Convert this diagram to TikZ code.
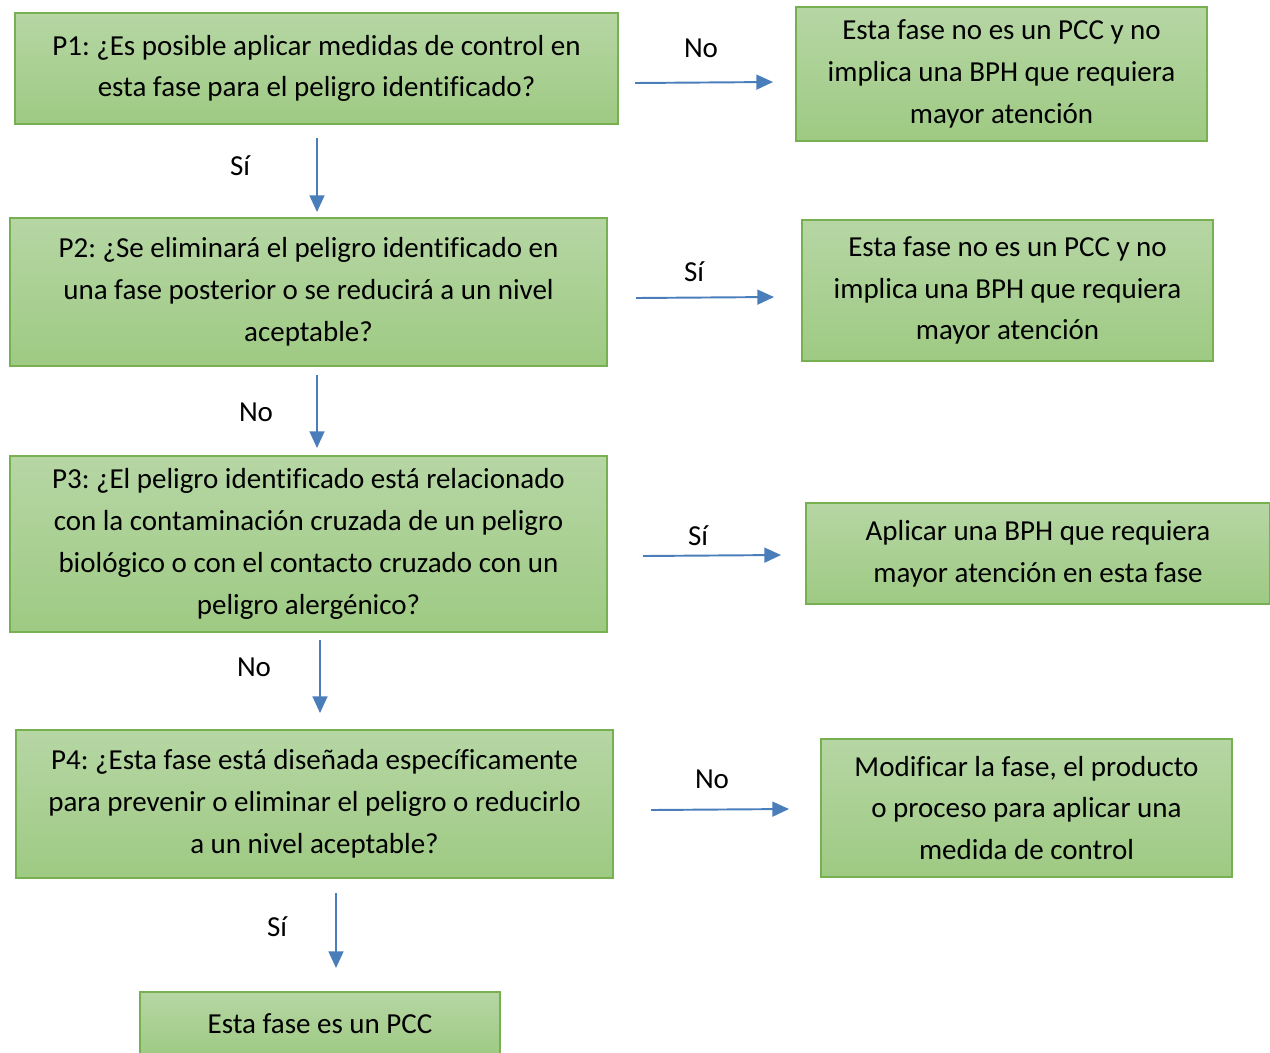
\documentclass[tikz,border=0pt]{standalone}
\usepackage{fontspec}
\setmainfont{Carlito}[Ligatures=NoCommon]
\frenchspacing
\usetikzlibrary{arrows.meta,positioning}
\definecolor{boxtop}{RGB}{182,214,164}
\definecolor{boxbot}{RGB}{158,202,131}
\definecolor{boxedge}{RGB}{118,176,80}
\definecolor{flechaazul}{RGB}{74,126,187}

\begin{document}
\begin{tikzpicture}[x=0.02cm,y=-0.02cm,
  paso/.style={draw=boxedge, line width=0.8pt, top color=boxtop, bottom color=boxbot,
    align=center, inner sep=0pt, font=\fontsize{16.5}{23.8}\selectfont},
  flecha/.style={draw=flechaazul, line width=1.1pt, -{Triangle[length=9.5pt,width=8.5pt]}},
  etiqueta/.style={inner sep=0pt, font=\fontsize{16.5}{20}\selectfont}]
\useasboundingbox (0,0) rectangle (1270,1052);

% preguntas
\node[paso, minimum width=12.06cm, minimum height=2.22cm] (p1) at (316.5,68.5)
  {P1: ¿Es posible aplicar medidas de control en\\esta fase para el peligro identificado?};
\node[paso, minimum width=11.94cm, minimum height=2.96cm] (p2) at (308.5,292)
  {P2: ¿Se eliminará el peligro identificado en\\una fase posterior o se reducirá a un nivel\\aceptable?};
\node[paso, minimum width=11.94cm, minimum height=3.52cm] (p3) at (308.5,544)
  {P3: ¿El peligro identificado está relacionado\\con la contaminación cruzada de un peligro\\biológico o con el contacto cruzado con un\\peligro alergénico?};
\node[paso, minimum width=11.94cm, minimum height=2.96cm] (p4) at (314.5,804)
  {P4: ¿Esta fase está diseñada específicamente\\para prevenir o eliminar el peligro o reducirlo\\a un nivel aceptable?};
\node[paso, minimum width=7.2cm, minimum height=1.28cm] (pcc) at (320,1024)
  {Esta fase es un PCC};

% resultados
\node[paso, minimum width=8.22cm, minimum height=2.68cm] (r1) at (1001.5,74)
  {Esta fase no es un PCC y no\\implica una BPH que requiera\\mayor atención};
\node[paso, minimum width=8.22cm, minimum height=2.82cm] (r2) at (1007.5,290.5)
  {Esta fase no es un PCC y no\\implica una BPH que requiera\\mayor atención};
\node[paso, minimum width=9.28cm, minimum height=2.02cm] (r3) at (1038,553.5)
  {Aplicar una BPH que requiera\\mayor atención en esta fase};
\node[paso, minimum width=8.22cm, minimum height=2.76cm] (r4) at (1026.5,808)
  {Modificar la fase, el producto\\o proceso para aplicar una\\medida de control};

% flechas
\coordinate (a1i) at (635,83);  \coordinate (a1f) at (773,82);
\coordinate (a2i) at (636,298); \coordinate (a2f) at (774,297);
\coordinate (a3i) at (643,556); \coordinate (a3f) at (781,555);
\coordinate (a4i) at (651,810); \coordinate (a4f) at (789,809);
\coordinate (b1i) at (317,138); \coordinate (b1f) at (317,212);
\coordinate (b2i) at (317,375); \coordinate (b2f) at (317,448);
\coordinate (b3i) at (320,640); \coordinate (b3f) at (320,713);
\coordinate (b4i) at (336,893); \coordinate (b4f) at (336,968);

\draw[flecha] (a1i) -- (a1f);
\draw[flecha] (a2i) -- (a2f);
\draw[flecha] (a3i) -- (a3f);
\draw[flecha] (a4i) -- (a4f);
\draw[flecha] (b1i) -- (b1f);
\draw[flecha] (b2i) -- (b2f);
\draw[flecha] (b3i) -- (b3f);
\draw[flecha] (b4i) -- (b4f);

\node[etiqueta] (l1) at (701,48) {No};
\node[etiqueta] (l2) at (694,272) {Sí};
\node[etiqueta] (l3) at (698,536) {Sí};
\node[etiqueta] (l4) at (712,779) {No};
\node[etiqueta] (m1) at (240,166) {Sí};
\node[etiqueta] (m2) at (256,412) {No};
\node[etiqueta] (m3) at (254,667) {No};
\node[etiqueta] (m4) at (277,927) {Sí};
\end{tikzpicture}
\end{document}
